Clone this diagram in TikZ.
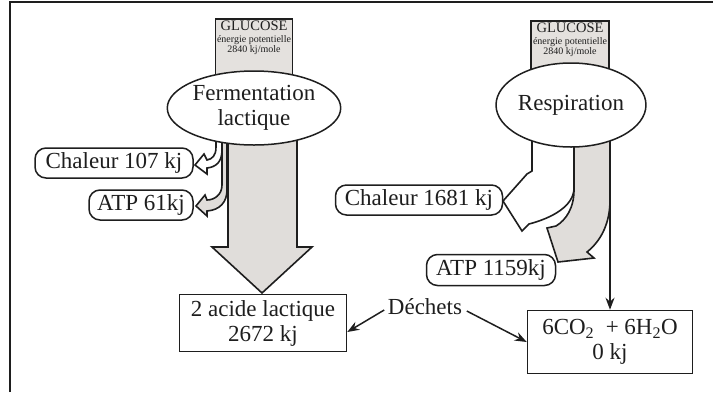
\documentclass[tikz,border=0pt]{standalone}
\usepackage{fontspec}
\setmainfont{Liberation Serif}
\usetikzlibrary{shapes.geometric,arrows.meta,positioning}
\pgfdeclarelayer{background}
\pgfsetlayers{background,main}
\newcommand{\fluxfont}{\fontsize{23}{25}\selectfont}
\begin{document}
\begin{tikzpicture}[x=1pt,y=-1pt,line width=1.5pt,
    gbox/.style={draw=ink, fill=glu, anchor=north, minimum width=77, minimum height=70, inner sep=0},
    gtext/.style={align=center, text=ink, font=\fontsize{10}{10.5}\selectfont, inner sep=0},
    proc/.style={ellipse, draw=ink, fill=white, align=center, text=ink, font=\fluxfont, inner sep=0},
    energy/.style={draw=ink, fill=white, rounded corners=11, text=ink, font=\fluxfont, minimum height=30, inner sep=0},
    result/.style={draw=ink, fill=white, align=center, text=ink, font=\fluxfont, inner sep=0},
    flow/.style={draw=ink, line width=1.6pt, line join=miter},
    waste/.style={draw=ink, line width=1.5pt, -{Stealth[length=12pt,width=9pt]}}]
        % Define colors
        \definecolor{ink}{RGB}{30, 30, 30}
        \definecolor{glu}{RGB}{228, 225, 222}
        \definecolor{part}{RGB}{224, 221, 218}

        \useasboundingbox (0,0) rectangle (720,392);

        % Frame
        \draw[ink, line width=1.5pt] (10,392) -- (10,2) -- (713,2);

        % --- GLUCOSE (left) ---
        \node[gbox] (glucL) at (254,18) {};
        \node[gtext, below=2pt of glucL.north] (glucLt) {{\fontsize{14.5}{15}\selectfont GLUCOSE}\\[1.5pt]énergie potentielle\\2840 kj/mole};

        % --- GLUCOSE (right) ---
        \node[gbox, minimum width=78] (glucR) at (570,20) {};
        \node[gtext, below=2pt of glucR.north] (glucRt) {{\fontsize{14.5}{15}\selectfont GLUCOSE}\\[1.5pt]énergie potentielle\\2840 kj/mole};

        % --- Processes ---
        \node[proc, minimum width=132, minimum height=74] (ferm) at (254,108) {Fermentation\\lactique};
        \node[proc, minimum width=132, minimum height=84] (resp) at (571,105) {Respiration};

        % --- Energy released ---
        \node[energy, minimum width=158] (chalL) at (114,163) {Chaleur 107 kj};
        \node[energy, minimum width=104] (atpL) at (141,205) {ATP 61kj};
        \node[energy, minimum width=167] (chalR) at (419,200) {Chaleur 1681 kj};
        \node[energy, minimum width=129, minimum height=31] (atpR) at (491,270) {ATP 1159kj};

        % --- Products ---
        \node[result, minimum width=167, minimum height=57] (acide) at (263,323) {2 acide lactique\\2672 kj};
        \node[result, minimum width=165, minimum height=63] (prod) at (610,342) {6CO\textsubscript{2}\ \ + 6H\textsubscript{2}O\\0 kj};
        \node[text=ink, font=\fluxfont, inner sep=0] (dech) at (425,307) {Déchets};

        \draw[waste] ([shift={(-3,3)}]dech.west) -- ([yshift=-9pt]acide.east);
        \draw[waste] ([shift={(4,4)}]dech.east) -- (prod.west);

        \begin{pgfonlayer}{background}
        % Fermentation flows
        \filldraw[flow, fill=part] (228,130) -- (228,247) -- (212,247) -- (262,293) -- (312,247) -- (297,247) -- (297,130) -- cycle;
        \filldraw[flow, fill=white] (216,130) -- (216,147) .. controls (216,156) and (212,159) .. (207,160) -- (204,154) -- (195,165) -- (207,174) -- (207,168) .. controls (216,167) and (222,162) .. (222,150) -- (222,130) -- cycle;
        \filldraw[flow, fill=part] (222,130) -- (222,185) .. controls (222,195) and (214,200) .. (207,200) -- (205,195) -- (196,206) -- (207,216) -- (207,211) .. controls (220,210) and (227,202) .. (227,190) -- (227,130) -- cycle;

        % Respiration flows
        \filldraw[flow, fill=white] (532,120) -- (532,171) -- (527,174) -- (503,201) -- (522,231) -- (529,224) .. controls (552,218) and (574,206) .. (574,188) -- (574,120) -- cycle;
        \filldraw[flow, fill=part] (574,120) -- (574,190) .. controls (574,208) and (566,220) .. (556,226) -- (547,228) -- (558,262) -- (594,258) -- (587,252) .. controls (602,240) and (610,222) .. (610,200) -- (610,120) -- cycle;
        \draw[waste] (resp.center -| prod.north) -- (prod.north);
        \end{pgfonlayer}

    \end{tikzpicture}
\end{document}
